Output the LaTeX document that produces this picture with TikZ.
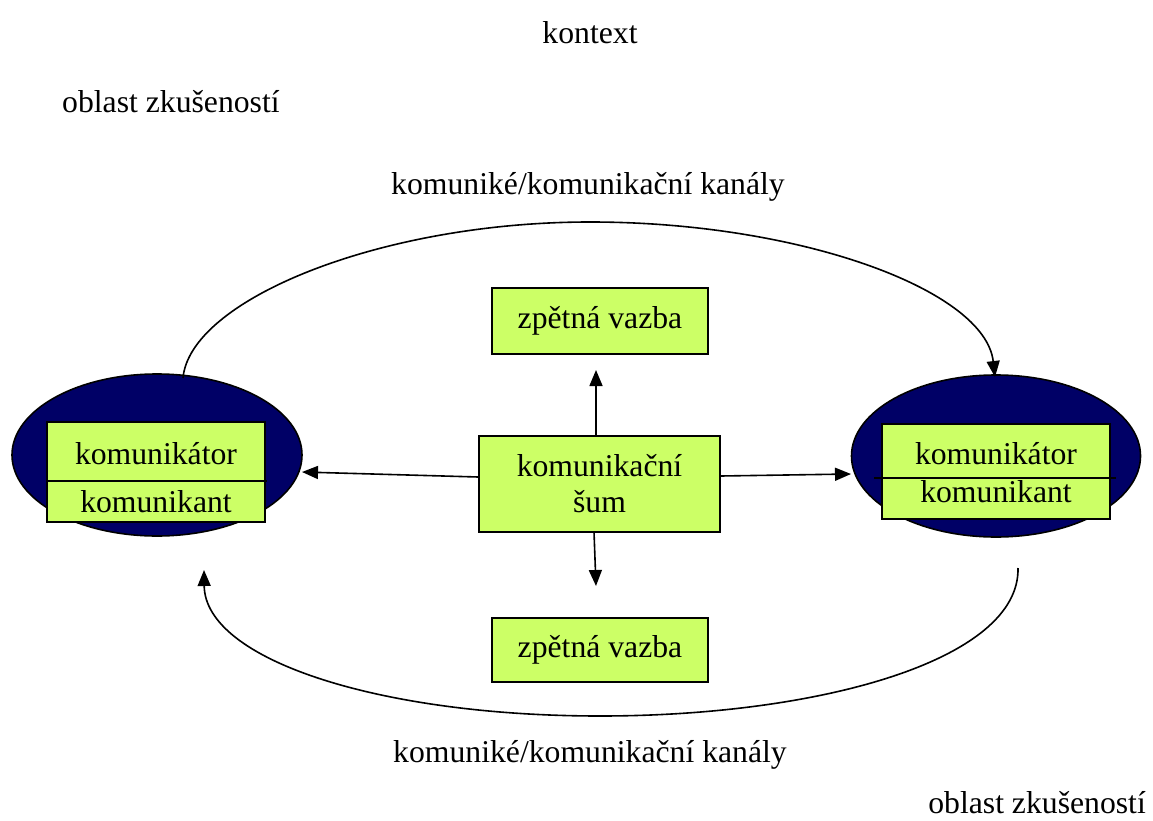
\documentclass[tikz,border=0pt]{standalone}
\usepackage{fontspec}
\setmainfont{Liberation Serif}
\usetikzlibrary{arrows.meta,shapes.geometric}
\definecolor{navyfill}{HTML}{000066}
\definecolor{limefill}{HTML}{CCFF66}
\begin{document}
\begin{tikzpicture}[x=1pt,y=-1pt,
  every node/.style={font=\fontsize{31.7}{36}\selectfont, inner sep=0pt},
  lbl/.style={text=black},
  greenbox/.style={draw=black, line width=1.6pt, fill=limefill, rectangle},
  oval/.style={draw=black, line width=1.6pt, fill=navyfill, ellipse},
  conn/.style={line width=1.6pt, -{Triangle[length=16pt,width=13pt]}}
]
\useasboundingbox (0,0) rectangle (1153,821);
% labels
\node[lbl] (kontext) at (590,33) {kontext};
\node[lbl, anchor=west] (obl1) at (62,102) {oblast zkušeností};
\node[lbl] (kan1) at (588,187) {komuniké/komunikační kanály};
\node[lbl] (kan2) at (590,755) {komuniké/komunikační kanály};
\node[lbl, anchor=east] (obl2) at (1146,803) {oblast zkušeností};
% ellipses
\node[oval, minimum width=290pt, minimum height=162pt] (L) at (157,455) {};
\node[oval, minimum width=289pt, minimum height=162pt] (R) at (996,456) {};
% inner boxes
\node[greenbox, minimum width=218pt, minimum height=100pt] (Lb) at (156,472) {};
\draw[line width=1.6pt] (Lb.west |- 0,481) coordinate (ld1) -- ([xshift=1pt]Lb.east |- 0,481) coordinate (ld2);
\node (Lt) at (156,454) {komunikátor};
\node (Lk) at (156,502) {komunikant};
\node[greenbox, minimum width=228pt, minimum height=95pt] (Rb) at (996,471.5) {};
\draw[line width=1.6pt] ([xshift=-7pt]Rb.west |- 0,478) coordinate (rd1) -- ([xshift=5pt]Rb.east |- 0,478) coordinate (rd2);
\node (Rt) at (996,454) {komunikátor};
\node (Rk) at (996,492) {komunikant};
% center
\node[greenbox, minimum width=241pt, minimum height=96pt, align=center] (C) at (599.5,484) {komunikační\\šum};
\node[greenbox, minimum width=216pt, minimum height=66pt] (T) at (600,321) {zpětná vazba};
\node[greenbox, minimum width=216pt, minimum height=64pt] (B) at (600,650) {zpětná vazba};
% straight arrows
\coordinate (cu) at (596,436);
\coordinate (cd) at (594,532);
\draw[conn] (cu) -- (596,370) coordinate (tu);
\draw[conn] (cd) -- (596,586) coordinate (bd);
\draw[conn] (C.west |- 0,477) -- (302,472);
\draw[conn] (C.east |- 0,476) -- (851,474);
% arcs
\coordinate (a1) at (183,378);
\coordinate (a2) at (995,377);
\draw[conn] (a1) .. controls (190,300) and (380,222) .. (590,222)
  .. controls (800,222) and (985,290) .. (a2);
\coordinate (b1) at (1018,568);
\coordinate (b2) at (204,570);
\draw[conn] (b1) .. controls (1020,660) and (820,716) .. (600,716)
  .. controls (380,716) and (205,660) .. (b2);
\end{tikzpicture}
\end{document}
